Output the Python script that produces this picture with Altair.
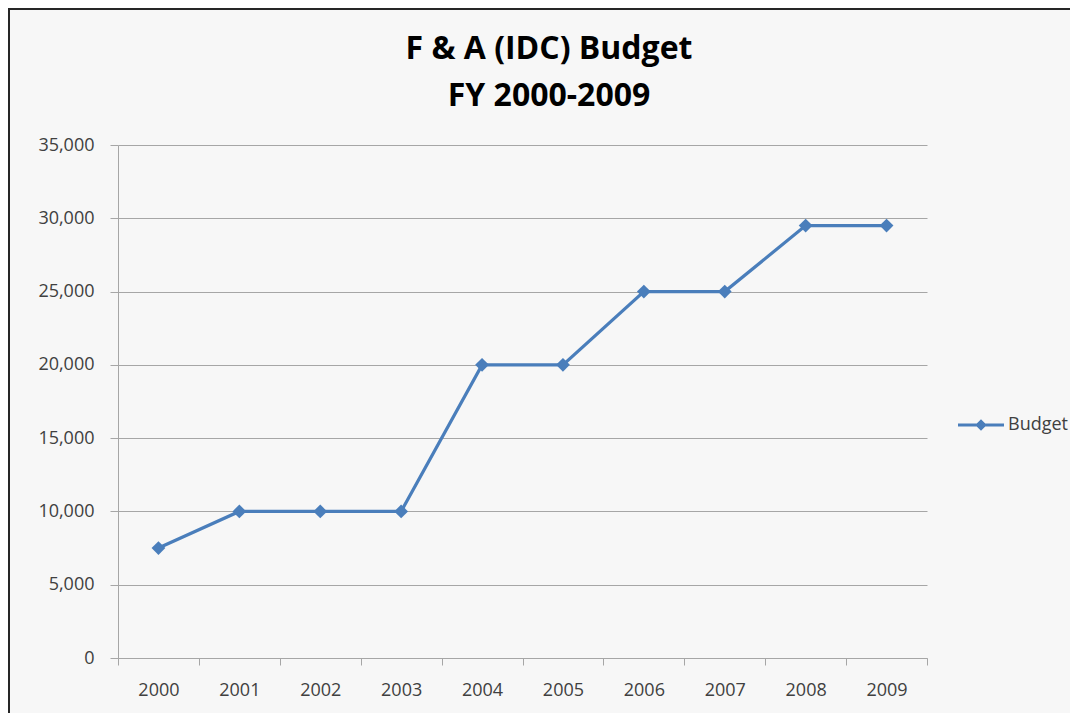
import altair as alt
import pandas as pd

years = ["2000", "2001", "2002", "2003", "2004", "2005", "2006", "2007", "2008", "2009"]
budget = [7500, 10000, 10000, 10000, 20000, 20000, 25000, 25000, 29500, 29500]
series = ["Budget"] * len(years)
title_lines = ["F & A (IDC) Budget", "FY 2000-2009"]

df = pd.DataFrame({"Year": years, "Budget": budget, "Series": series})

FONT = "Open Sans"
BLUE = "#4a7ebb"
LABEL = "#404040"
GRID = "#a6a6a6"

legend_path = "M-1,-0.07L1,-0.07L1,0.07L-1,0.07Z M0,-0.25L0.25,0L0,0.25L-0.25,0Z"

line = alt.Chart(df).mark_line(
    strokeWidth=3.2,
    point=alt.OverlayMarkDef(shape="diamond", size=190, filled=True, opacity=1),
).encode(
    x=alt.X("Year:O", sort=years,
            scale=alt.Scale(type="band", paddingInner=0, paddingOuter=0),
            axis=alt.Axis(title=None, labelAngle=0, tickBand="extent", grid=False,
                          tickSize=7, labelPadding=16, labelFontSize=18,
                          labelFont=FONT, labelColor=LABEL,
                          domainColor=GRID, tickColor=GRID)),
    y=alt.Y("Budget:Q",
            scale=alt.Scale(domain=[0, 35000], nice=False),
            axis=alt.Axis(title=None, values=[0, 5000, 10000, 15000, 20000, 25000, 30000, 35000],
                          format=",.0f", tickSize=8, labelPadding=16, labelFontSize=18,
                          labelFont=FONT, labelColor=LABEL, gridColor=GRID,
                          domainColor=GRID, tickColor=GRID)),
    color=alt.Color("Series:N",
                    scale=alt.Scale(domain=["Budget"], range=[BLUE]),
                    legend=alt.Legend(title=None, orient="none", legendX=840, legendY=257,
                                      symbolType=legend_path, symbolSize=2116,
                                      symbolFillColor=BLUE, symbolStrokeColor=BLUE,
                                      symbolStrokeWidth=0, labelFont=FONT, labelFontSize=18,
                                      labelColor=LABEL, labelOffset=4, padding=0)),
)

border = alt.Chart(pd.DataFrame({"b": [1]})).mark_rect(
    fill=None, stroke="#262626", strokeWidth=2
).encode(
    x=alt.value(-109), x2=alt.value(1200), y=alt.value(-136), y2=alt.value(900)
)

t1 = alt.Chart(pd.DataFrame({"t": [title_lines[0]]})).mark_text(
    font=FONT, fontSize=32, fontWeight="bold", color="#000000", align="center", baseline="middle"
).encode(text="t:N", x=alt.value(431), y=alt.value(-96))

t2 = alt.Chart(pd.DataFrame({"t": [title_lines[1]]})).mark_text(
    font=FONT, fontSize=32, fontWeight="bold", color="#000000", align="center", baseline="middle"
).encode(text="t:N", x=alt.value(431), y=alt.value(-49))

chart = alt.layer(border, t1, t2, line).properties(
    width=809, height=513,
    padding={"left": 110, "top": 137, "right": 143, "bottom": 55},
    autosize=alt.AutoSizeParams(type="none"),
    background="#f7f7f7",
).configure_view(stroke=None)

chart.save("out.html", embed_options={"renderer": "svg", "actions": False})
